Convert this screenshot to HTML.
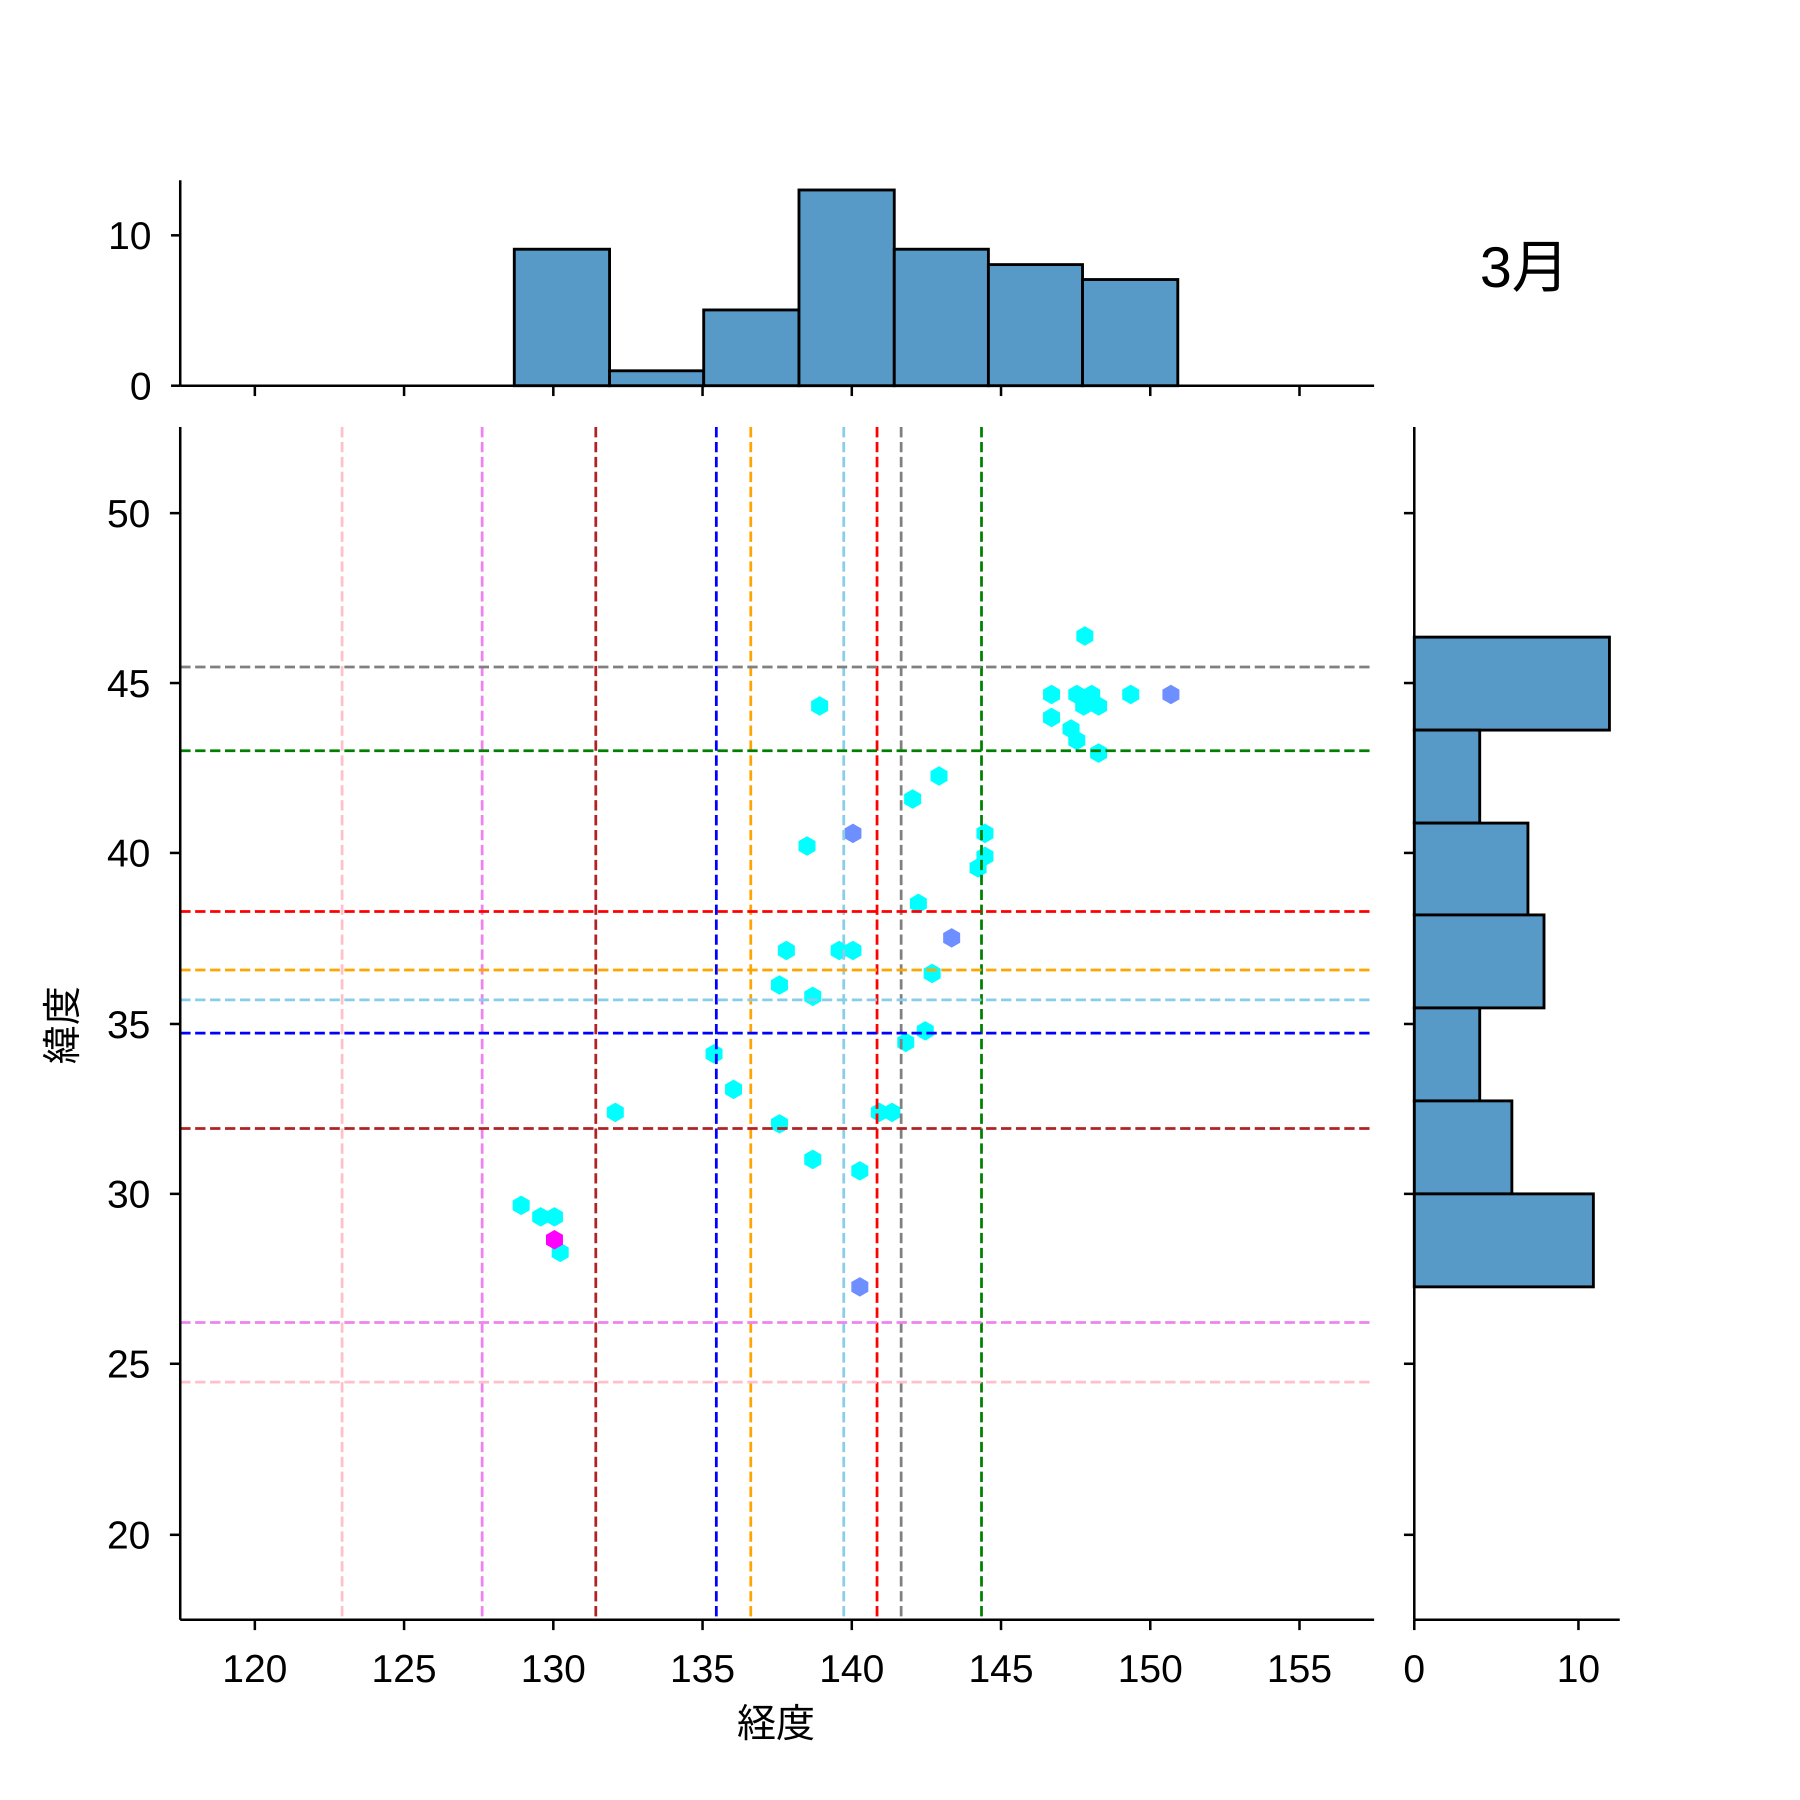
<!DOCTYPE html>
<html><head><meta charset="utf-8"><style>html,body{margin:0;padding:0;background:#fff}svg{display:block}</style></head><body>
<svg xmlns="http://www.w3.org/2000/svg" width="1800" height="1800" viewBox="0 0 1568 1568" font-family="'Liberation Sans','Noto Sans CJK JP',sans-serif">
<defs>
<polygon id="h" points="0,-8.5 7.4,-4.25 7.4,4.25 0,8.5 -7.4,4.25 -7.4,-4.25"/>
</defs>
<rect width="1568" height="1568" fill="#fff"/>
<g fill="#579ac8" stroke="#000" stroke-width="2.5">
<rect x="448" y="217.1" width="83" height="118.9"/>
<rect x="531" y="323" width="82" height="13"/>
<rect x="613" y="270" width="83" height="66"/>
<rect x="696" y="165.5" width="83" height="170.5"/>
<rect x="779" y="217.1" width="82" height="118.9"/>
<rect x="861" y="230.5" width="82" height="105.5"/>
<rect x="943" y="243.5" width="83" height="92.5"/>
</g>
<g stroke="#000" stroke-width="2.2">
<line x1="157" y1="157" x2="157" y2="336"/>
<line x1="157" y1="336" x2="1197" y2="336"/>
<line x1="149" y1="336" x2="157" y2="336"/><line x1="149" y1="205" x2="157" y2="205"/>
<line x1="222" y1="336" x2="222" y2="345"/><line x1="352" y1="336" x2="352" y2="345"/><line x1="482" y1="336" x2="482" y2="345"/><line x1="612" y1="336" x2="612" y2="345"/><line x1="742" y1="336" x2="742" y2="345"/><line x1="872" y1="336" x2="872" y2="345"/><line x1="1002" y1="336" x2="1002" y2="345"/><line x1="1132" y1="336" x2="1132" y2="345"/>
</g>
<g font-size="34" text-anchor="end" fill="#000">
<text x="132" y="348">0</text><text x="132" y="217">10</text>
</g>
<text x="1328" y="250" font-size="50" text-anchor="middle">3月</text>
<g fill="#579ac8" stroke="#000" stroke-width="2.5">
<rect x="1232" y="555" width="170" height="81"/>
<rect x="1232" y="636" width="57" height="81"/>
<rect x="1232" y="717" width="99" height="80"/>
<rect x="1232" y="797" width="113" height="81"/>
<rect x="1232" y="878" width="57" height="81"/>
<rect x="1232" y="959" width="85" height="81"/>
<rect x="1232" y="1040" width="156" height="81"/>
</g>
<g stroke="#000" stroke-width="2.2">
<line x1="1232" y1="372" x2="1232" y2="1411"/>
<line x1="1232" y1="1411" x2="1411" y2="1411"/>
<line x1="1232" y1="1411" x2="1232" y2="1420"/><line x1="1375" y1="1411" x2="1375" y2="1420"/>
<line x1="1223" y1="447" x2="1232" y2="447"/><line x1="1223" y1="595" x2="1232" y2="595"/><line x1="1223" y1="743" x2="1232" y2="743"/><line x1="1223" y1="892" x2="1232" y2="892"/><line x1="1223" y1="1040" x2="1232" y2="1040"/><line x1="1223" y1="1188" x2="1232" y2="1188"/><line x1="1223" y1="1337" x2="1232" y2="1337"/>
</g>
<g font-size="34" text-anchor="middle"><text x="1232" y="1465">0</text><text x="1375" y="1465">10</text></g>
<g fill="#00ffff">
<use href="#h" x="945" y="554"/><use href="#h" x="916" y="605"/><use href="#h" x="938" y="605"/><use href="#h" x="951" y="605"/><use href="#h" x="985" y="605"/><use href="#h" x="944" y="615"/><use href="#h" x="957" y="615"/><use href="#h" x="916" y="625"/><use href="#h" x="933" y="635"/><use href="#h" x="938" y="645"/><use href="#h" x="957" y="656"/><use href="#h" x="714" y="615"/><use href="#h" x="818" y="676"/><use href="#h" x="795" y="696"/><use href="#h" x="858" y="726"/><use href="#h" x="858" y="746"/><use href="#h" x="852" y="756"/><use href="#h" x="703" y="737"/><use href="#h" x="800" y="787"/><use href="#h" x="685" y="828"/><use href="#h" x="731" y="828"/><use href="#h" x="743" y="828"/><use href="#h" x="812" y="848"/><use href="#h" x="679" y="858"/><use href="#h" x="708" y="868"/><use href="#h" x="806" y="898"/><use href="#h" x="789" y="908"/><use href="#h" x="622" y="918"/><use href="#h" x="639" y="949"/><use href="#h" x="536" y="969"/><use href="#h" x="766" y="969"/><use href="#h" x="777" y="969"/><use href="#h" x="679" y="979"/><use href="#h" x="708" y="1010"/><use href="#h" x="749" y="1020"/><use href="#h" x="454" y="1050"/><use href="#h" x="471" y="1060"/><use href="#h" x="483" y="1060"/><use href="#h" x="488" y="1091"/>
</g>
<g fill="#6e8fff"><use href="#h" x="1020" y="605"/><use href="#h" x="743" y="726"/><use href="#h" x="829" y="817"/><use href="#h" x="749" y="1121"/></g>
<use href="#h" x="483" y="1080" fill="#ff00ff"/>
<g stroke-width="2.4" stroke-dasharray="9,4" fill="none">
<line x1="298" y1="372" x2="298" y2="1411" stroke="#ffc0cb"/>
<line x1="420" y1="372" x2="420" y2="1411" stroke="#ee82ee"/>
<line x1="519" y1="372" x2="519" y2="1411" stroke="#b22222"/>
<line x1="624" y1="372" x2="624" y2="1411" stroke="#0000ff"/>
<line x1="654" y1="372" x2="654" y2="1411" stroke="#ffa500"/>
<line x1="735" y1="372" x2="735" y2="1411" stroke="#87ceeb"/>
<line x1="764" y1="372" x2="764" y2="1411" stroke="#ff0000"/>
<line x1="785" y1="372" x2="785" y2="1411" stroke="#808080"/>
<line x1="855" y1="372" x2="855" y2="1411" stroke="#008000"/>
<line x1="157" y1="581" x2="1197" y2="581" stroke="#808080"/>
<line x1="157" y1="654" x2="1197" y2="654" stroke="#008000"/>
<line x1="157" y1="794" x2="1197" y2="794" stroke="#ff0000"/>
<line x1="157" y1="845" x2="1197" y2="845" stroke="#ffa500"/>
<line x1="157" y1="871" x2="1197" y2="871" stroke="#87ceeb"/>
<line x1="157" y1="900" x2="1197" y2="900" stroke="#0000ff"/>
<line x1="157" y1="983" x2="1197" y2="983" stroke="#b22222"/>
<line x1="157" y1="1152" x2="1197" y2="1152" stroke="#ee82ee"/>
<line x1="157" y1="1204" x2="1197" y2="1204" stroke="#ffc0cb"/>
</g>
<g stroke="#000" stroke-width="2.2">
<line x1="157" y1="372" x2="157" y2="1411"/>
<line x1="157" y1="1411" x2="1197" y2="1411"/>
<line x1="222" y1="1411" x2="222" y2="1420"/><line x1="352" y1="1411" x2="352" y2="1420"/><line x1="482" y1="1411" x2="482" y2="1420"/><line x1="612" y1="1411" x2="612" y2="1420"/><line x1="742" y1="1411" x2="742" y2="1420"/><line x1="872" y1="1411" x2="872" y2="1420"/><line x1="1002" y1="1411" x2="1002" y2="1420"/><line x1="1132" y1="1411" x2="1132" y2="1420"/>
<line x1="148" y1="447" x2="157" y2="447"/><line x1="148" y1="595" x2="157" y2="595"/><line x1="148" y1="743" x2="157" y2="743"/><line x1="148" y1="892" x2="157" y2="892"/><line x1="148" y1="1040" x2="157" y2="1040"/><line x1="148" y1="1188" x2="157" y2="1188"/><line x1="148" y1="1337" x2="157" y2="1337"/>
</g>
<g font-size="34" text-anchor="middle">
<text x="222" y="1465">120</text><text x="352" y="1465">125</text><text x="482" y="1465">130</text><text x="612" y="1465">135</text><text x="742" y="1465">140</text><text x="872" y="1465">145</text><text x="1002" y="1465">150</text><text x="1132" y="1465">155</text>
</g>
<g font-size="34" text-anchor="end">
<text x="131" y="459">50</text><text x="131" y="607">45</text><text x="131" y="755">40</text><text x="131" y="904">35</text><text x="131" y="1052">30</text><text x="131" y="1200">25</text><text x="131" y="1349">20</text>
</g>
<text x="676" y="1513" font-size="34" text-anchor="middle">経度</text>
<text transform="translate(66,893) rotate(-90)" font-size="34" text-anchor="middle">緯度</text>
</svg>
</body></html>
